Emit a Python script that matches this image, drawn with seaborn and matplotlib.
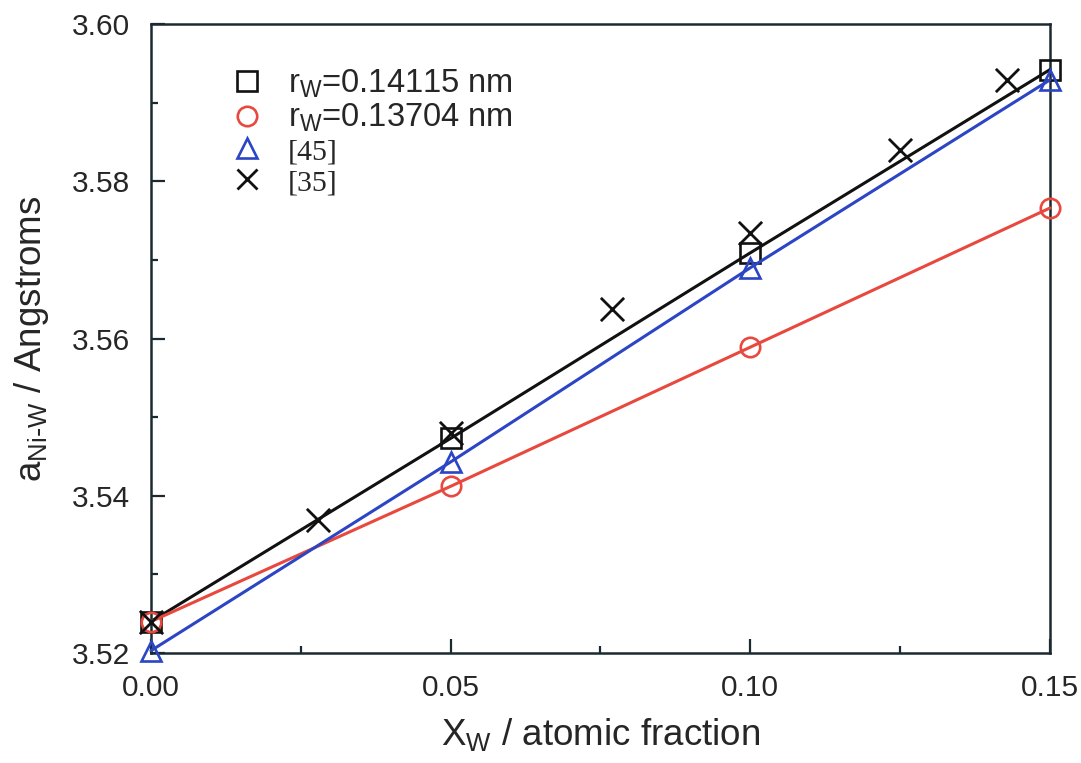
import matplotlib
matplotlib.use("Agg")
import matplotlib.pyplot as plt
import seaborn as sns
import numpy as np
from matplotlib.lines import Line2D
from matplotlib.ticker import MultipleLocator, FormatStrFormatter

# ---- data ----
x_calc = [0.0, 0.05, 0.10, 0.15]
a_r14115 = [3.5240, 3.5473, 3.5709, 3.5942]   # squares, black line
a_r13704 = [3.5240, 3.5412, 3.5589, 3.5766]   # circles, red line
a_ref45 = [3.5203, 3.5443, 3.5690, 3.5929]    # triangles, blue line
x_ref35 = [0.0, 0.0279, 0.05, 0.0769, 0.10, 0.1250, 0.1428]
a_ref35 = [3.5240, 3.5369, 3.5480, 3.5638, 3.5734, 3.5840, 3.5929]

labels = [r"r$_W$=0.14115 nm", r"r$_W$=0.13704 nm", "[45]", "[35]"]
x_ticks = [0.00, 0.05, 0.10, 0.15]
y_ticks = [3.52, 3.54, 3.56, 3.58, 3.60]

BLACK = "#111111"
RED = "#e8483d"
BLUE = "#2b45c4"
SPINE = "#1b2a30"
TEXT = "#262626"

sns.set_style("white")
plt.rcParams["font.family"] = ["Liberation Sans", "DejaVu Sans"]
plt.rcParams["mathtext.default"] = "regular"

fig = plt.figure(figsize=(10.81, 7.63), dpi=100)
ax = fig.add_axes([0.1397, 0.1442, 0.8316, 0.8243])

common = dict(markersize=14, markerfacecolor="none", markeredgewidth=1.9,
              linewidth=2.2, clip_on=False, zorder=3)
sns.lineplot(x=x_calc, y=a_r14115, ax=ax, color=BLACK, marker="s",
             markeredgecolor=BLACK, **common)
sns.lineplot(x=x_calc, y=a_r13704, ax=ax, color=RED, marker="o",
             markeredgecolor=RED, **common)
sns.lineplot(x=x_calc, y=a_ref45, ax=ax, color=BLUE, marker="^",
             markeredgecolor=BLUE, **common)
sns.scatterplot(x=x_ref35, y=a_ref35, ax=ax, color=BLACK, marker="x",
                s=280, linewidth=2.0, clip_on=False, zorder=4)

ax.set_xlim(0, 0.15)
ax.set_ylim(3.52, 3.60)
ax.set_xticks(x_ticks)
ax.set_yticks(y_ticks)
ax.xaxis.set_major_formatter(FormatStrFormatter("%.2f"))
ax.yaxis.set_major_formatter(FormatStrFormatter("%.2f"))
ax.xaxis.set_minor_locator(MultipleLocator(0.025))
ax.yaxis.set_minor_locator(MultipleLocator(0.01))
ax.tick_params(which="both", direction="in", colors=SPINE, labelcolor=TEXT,
               top=False, right=False, left=True, bottom=True)
ax.tick_params(which="major", length=10, width=1.6, labelsize=21.5, pad=15)
ax.tick_params(which="minor", length=5, width=1.6)
for s in ax.spines.values():
    s.set_color(SPINE)
    s.set_linewidth(1.8)

ax.set_xlabel(r"X$_W$ / atomic fraction", fontsize=26.5, color=TEXT, labelpad=10)
ax.set_ylabel(r"a$_{Ni\text{-}W}$ / Angstroms", fontsize=26.5, color=TEXT, labelpad=15)

handles = [
    Line2D([], [], color=BLACK, marker="s", ls="none", markersize=14,
           markerfacecolor="none", markeredgewidth=1.9),
    Line2D([], [], color=RED, marker="o", ls="none", markersize=14,
           markerfacecolor="none", markeredgewidth=1.9),
    Line2D([], [], color=BLUE, marker="^", ls="none", markersize=14,
           markerfacecolor="none", markeredgewidth=1.9),
    Line2D([], [], color=BLACK, marker="x", ls="none", markersize=15,
           markeredgewidth=2.0),
]
leg = ax.legend(handles, labels, loc="upper left", bbox_to_anchor=(0.074, 0.952),
                frameon=False, fontsize=23.5, handlelength=1.0, handletextpad=0.75,
                labelspacing=0.07, borderaxespad=0)
for t in leg.get_texts()[2:]:
    t.set_fontfamily(["Liberation Serif", "DejaVu Serif"])
    t.set_fontsize(21.5)
for t in leg.get_texts():
    t.set_color(TEXT)

fig.savefig("out.png", dpi=100)
